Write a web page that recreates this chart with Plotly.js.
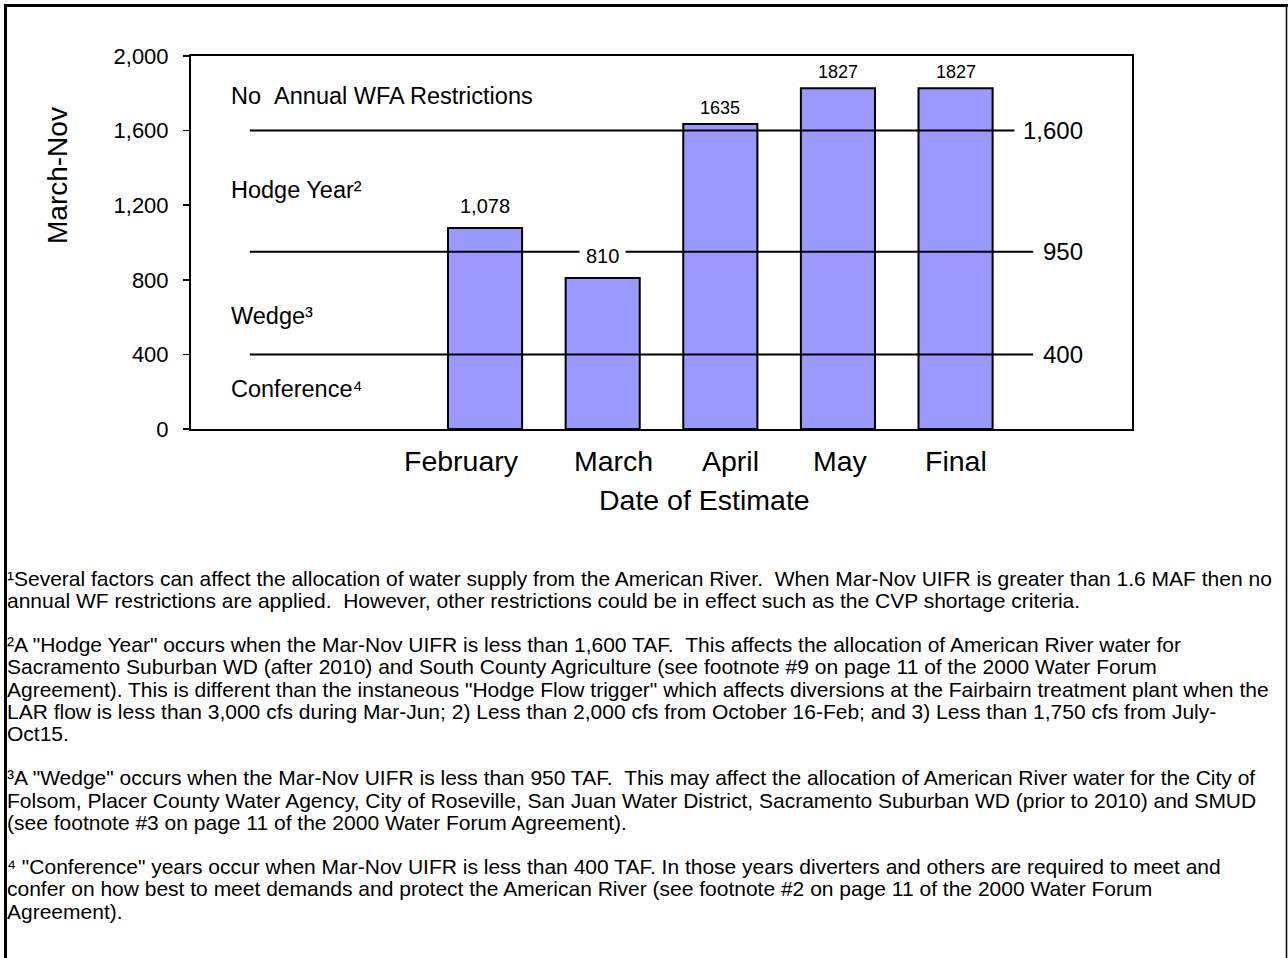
<!DOCTYPE html>
<html>
<head>
<meta charset="utf-8">
<script src="https://cdn.plot.ly/plotly-3.0.1.min.js"></script>
<style>html,body{margin:0;padding:0;background:#fff;}#chart{width:1288px;height:958px;}</style>
</head>
<body>
<div id="chart"></div>
<script>
// ---- data ----
const categories = ['February', 'March', 'April', 'May', 'Final'];
const values = [1078, 810, 1635, 1827, 1827];
const valueLabels = ['1,078', '810', '1635', '1827', '1827'];
const thresholds = [1600, 950, 400];
const thresholdLabels = ['1,600', '950', '400'];
const zoneLabels = ['No \u00a0Annual WFA Restrictions', 'Hodge Year\u00b2', 'Wedge\u00b3', 'Conference\u2074'];
const yTicks = [0, 400, 800, 1200, 1600, 2000];
const footnoteLines = [
  '\u00b9Several factors can affect the allocation of water supply from the American River. \u00a0When Mar-Nov UIFR is greater than 1.6 MAF then no',
  'annual WF restrictions are applied. \u00a0However, other restrictions could be in effect such as the CVP shortage criteria.',
  '',
  '\u00b2A "Hodge Year" occurs when the Mar-Nov UIFR is less than 1,600 TAF. \u00a0This affects the allocation of American River water for',
  'Sacramento Suburban WD (after 2010) and South County Agriculture (see footnote #9 on page 11 of the 2000 Water Forum',
  'Agreement). This is different than the instaneous "Hodge Flow trigger" which affects diversions at the Fairbairn treatment plant when the',
  'LAR flow is less than 3,000 cfs during Mar-Jun; 2) Less than 2,000 cfs from October 16-Feb; and 3) Less than 1,750 cfs from July-',
  'Oct15.',
  '',
  '\u00b3A "Wedge" occurs when the Mar-Nov UIFR is less than 950 TAF. \u00a0This may affect the allocation of American River water for the City of',
  'Folsom, Placer County Water Agency, City of Roseville, San Juan Water District, Sacramento Suburban WD (prior to 2010) and SMUD',
  '(see footnote #3 on page 11 of the 2000 Water Forum Agreement).',
  '',
  '\u2074 "Conference" years occur when Mar-Nov UIFR is less than 400 TAF. In those years diverters and others are required to meet and',
  'confer on how best to meet demands and protect the American River (see footnote #2 on page 11 of the 2000 Water Forum',
  'Agreement).'
];

// ---- layout helpers (pixel -> paper) ----
const W = 1288, H = 958;
const L = 191, R = 1132, T = 56, B = 429;
const px = p => (p - L) / (R - L);
const py = p => (B - p) / (B - T);
const FONT = 'Liberation Sans, Arial, Helvetica, sans-serif';
const leadingSlots = 2;
const xs = categories.map((c, i) => i + leadingSlots);
const tickLabelShift = [-24, 11, 10, 3, 0];   // horizontal nudges of category labels (px)

const traces = [{
  type: 'bar',
  x: xs,
  y: values,
  width: 0.63,
  marker: {color: '#9999FF', line: {color: '#000', width: 2}},
  hoverinfo: 'skip',
  showlegend: false
}];

const shapes = [];
const lineEnds = [6.5, 6.66, 6.66];
thresholds.forEach((t, i) => {
  shapes.push({type: 'line', layer: 'above', xref: 'x', yref: 'y', x0: 0, x1: lineEnds[i], y0: t, y1: t,
    line: {color: '#000', width: 2}});
});
// outer frame
shapes.push({type: 'line', xref: 'paper', yref: 'paper', x0: px(4), x1: px(1288), y0: py(5.5), y1: py(5.5), line: {color: '#000', width: 3}});
shapes.push({type: 'line', xref: 'paper', yref: 'paper', x0: px(5.5), x1: px(5.5), y0: py(4), y1: py(980), line: {color: '#000', width: 3}});
shapes.push({type: 'line', xref: 'paper', yref: 'paper', x0: px(1286.5), x1: px(1286.5), y0: py(4), y1: py(980), line: {color: '#000', width: 1.5}});

const annotations = [];
// value labels
values.forEach((v, i) => {
  const big = valueLabels[i].length !== 4;
  annotations.push({
    xref: 'x', yref: 'y', x: xs[i], y: v, text: valueLabels[i], showarrow: false,
    yanchor: 'middle', yshift: big ? 22 : 16,
    font: {family: FONT, size: big ? 20 : 18, color: '#000'},
    bgcolor: v < thresholds[1] ? '#fff' : 'rgba(0,0,0,0)', borderpad: 6
  });
});
// category labels
categories.forEach((c, i) => {
  annotations.push({xref: 'x', yref: 'paper', x: xs[i], y: py(461), xshift: tickLabelShift[i],
    xanchor: 'center', yanchor: 'middle', text: c, showarrow: false,
    font: {family: FONT, size: 28.5, color: '#000'}});
});
// threshold labels
thresholds.forEach((t, i) => {
  annotations.push({xref: 'paper', yref: 'y', x: px(1085), y: t, xanchor: 'right', yanchor: 'middle',
    text: thresholdLabels[i], showarrow: false, font: {family: FONT, size: 24, color: '#000'}});
});
// zone labels
const zoneY = [96, 190, 316, 389];
zoneLabels.forEach((z, i) => {
  annotations.push({xref: 'paper', yref: 'paper', x: px(229), y: py(zoneY[i]), xanchor: 'left', yanchor: 'middle',
    text: z, showarrow: false, font: {family: FONT, size: 23.5, color: '#000'}});
});
// axis titles
annotations.push({xref: 'paper', yref: 'paper', x: px(57), y: py(176), textangle: -90, xanchor: 'center', yanchor: 'middle',
  text: 'March-Nov', showarrow: false, font: {family: FONT, size: 28, color: '#000'}});
annotations.push({xref: 'paper', yref: 'paper', x: px(704), y: py(500), xanchor: 'center', yanchor: 'middle',
  text: 'Date of Estimate', showarrow: false, font: {family: FONT, size: 28.5, color: '#000'}});
// footnotes
footnoteLines.forEach((s, k) => {
  if (!s) return;
  annotations.push({xref: 'paper', yref: 'paper', x: px(6), y: py(578 + k * 22.2), xanchor: 'left', yanchor: 'middle',
    text: s, showarrow: false, align: 'left', borderpad: 0,
    font: {family: FONT, size: 21, color: '#000'}});
});

const layout = {
  width: W, height: H,
  margin: {l: L, r: W - R, t: T, b: H - B, pad: 0},
  paper_bgcolor: '#fff', plot_bgcolor: '#fff',
  font: {family: FONT, color: '#000'},
  showlegend: false,
  xaxis: {
    range: [-0.5, 7.5], showticklabels: false,
    showgrid: false, zeroline: false, showline: true, mirror: true, linecolor: '#000', linewidth: 2,
    ticks: '', fixedrange: true
  },
  yaxis: {
    range: [0, 2000], tickmode: 'array', tickvals: yTicks, ticktext: yTicks.map(v => v.toLocaleString('en-US')),
    showgrid: false, zeroline: false, showline: true, mirror: true, linecolor: '#000', linewidth: 2,
    ticks: 'outside', ticklen: 6, tickwidth: 1.5, tickcolor: '#000',
    tickfont: {family: FONT, size: 22, color: '#000'}, ticklabelstandoff: 10, fixedrange: true
  },
  shapes: shapes,
  annotations: annotations
};

Plotly.newPlot('chart', traces, layout, {staticPlot: true, displayModeBar: false});
</script>
</body>
</html>
